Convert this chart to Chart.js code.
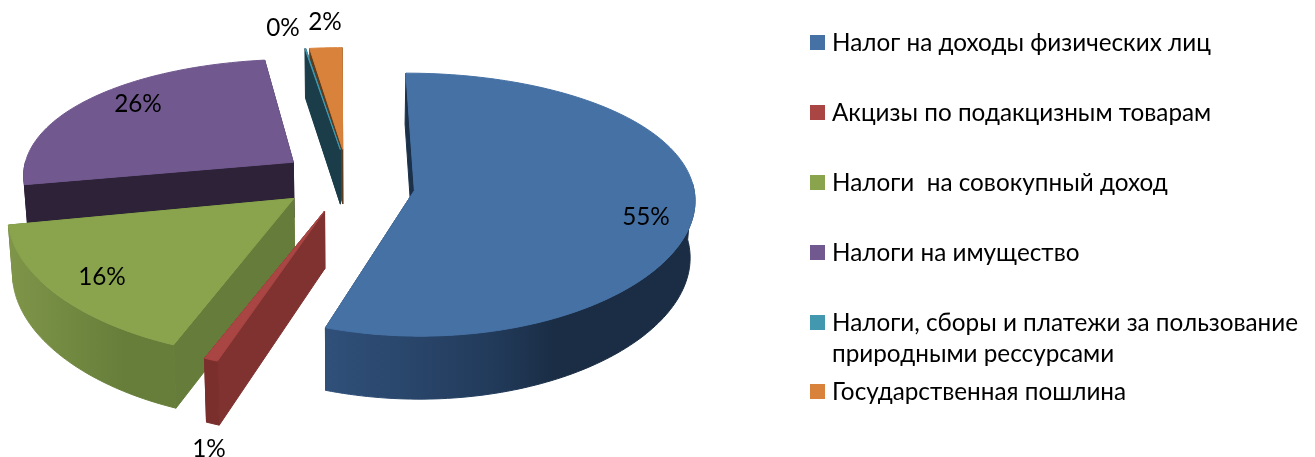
<!DOCTYPE html>
<html>
<head>
<meta charset="utf-8">
<script src="https://cdn.jsdelivr.net/npm/chart.js@4"></script>
<style>
  html, body { margin: 0; padding: 0; background: #fff; }
  canvas { display: block; }
</style>
</head>
<body>
<canvas id="myChart" width="1315" height="457"></canvas>
<script>
const categories = [
  "Налог на доходы физических лиц",
  "Акцизы по подакцизным товарам",
  "Налоги  на совокупный доход",
  "Налоги на имущество",
  "Налоги, сборы и платежи за пользование\nприродными рессурсами",
  "Государственная пошлина"
];
const shares = [55.2, 0.7, 16.0, 25.95, 0.05, 2.1];

// colours
const topColors = ["#4571a5", "#a94543", "#89a44d", "#71588f", "#4198af", "#d9823b"];
const radialWallColors = ["#1b3049", "#803230", "#657c3a", "#2d2238", "#1b3d4a", "#5d3d1e"];
const outerWallStops = [
  [[0, "#30507a"], [0.45, "#223b5b"], [0.62, "#1a2d45"], [1, "#1a2d45"]],
  [[0, "#7a2f2d"], [1, "#7a2f2d"]],
  [[0, "#7f9549"], [0.7, "#667e3a"], [1, "#667e3a"]],
  [[0, "#2d2238"], [1, "#2d2238"]],
  [[0, "#1b3d4a"], [1, "#1b3d4a"]],
  [[0, "#5d3d1e"], [1, "#5d3d1e"]]
];

// 3d look of the pie
const pieRadius = 279;
const squash = 126.5;
const depth = 56;
const perspX = 0.107;
const perspY = 0.16;
const floorShrink = 0.014;
const explode = 0.24;
const drawOrder = [3, 5, 4, 2, 1, 0];
// small corrections per slice, the original is not a perfect projection
const trimEnd = [1.1 * Math.PI / 180, 0, 0, 0, 0, 0];
const sliceScale = [1, 1, 1, 0.97, 1, 1];
const apexShift = [[2, 7], [2, 3], [0, 0], [1, 1], [3, 0], [1, 0]];

// label centres, placed by hand like in the original
const labelAt = [[646, 217], [209, 449], [102, 277], [138, 104], [283, 28], [325, 22]];
const legendSwatchTop = [35, 105, 175, 245, 315, 384];
const legendFont = '24.3px Lato, "Noto Sans"';
const labelFont = '24.3px Lato, "Noto Sans"';

function project(arc, theta, r, z) {
  const u = r * arc.scale * Math.sin(theta) + explode * Math.sin(arc.mid);
  const v = r * arc.scale * Math.cos(theta) + explode * Math.cos(arc.mid);
  const kx = 1 / (1 + perspX * v);
  const ky = 1 / (1 + perspY * v);
  return [
    arc.x + u * arc.outerRadius * kx * (1 - z * floorShrink),
    arc.y - v * squash * ky + z * depth * kx
  ];
}

function apex(arc, z) {
  const p = project(arc, 0, 0, z);
  return [p[0] + arc.shift[0], p[1] + arc.shift[1]];
}

function tracePoints(ctx, pts) {
  ctx.beginPath();
  pts.forEach(function (p, i) {
    if (i === 0) ctx.moveTo(p[0], p[1]);
    else ctx.lineTo(p[0], p[1]);
  });
  ctx.closePath();
}

function arcPoints(arc, from, to, z) {
  const pts = [];
  const steps = Math.max(2, Math.ceil(Math.abs(to - from) / 0.02));
  for (let i = 0; i <= steps; i++) {
    pts.push(project(arc, from + (to - from) * i / steps, 1, z));
  }
  return pts;
}

// stroke as well as fill, or white seams show between the wall pieces
function paint(ctx, style) {
  ctx.fillStyle = style;
  ctx.strokeStyle = style;
  ctx.lineWidth = 1;
  ctx.fill();
  ctx.stroke();
}

function radialWall(ctx, arc, theta, color) {
  tracePoints(ctx, [apex(arc, 0), project(arc, theta, 1, 0), project(arc, theta, 1, 1), apex(arc, 1)]);
  paint(ctx, color);
}

function drawSlice(ctx, el, i) {
  // chart.js angles start at 3 o'clock, the projection starts at 12
  const start = el.startAngle + Math.PI / 2;
  const end = el.endAngle + Math.PI / 2 - trimEnd[i];
  const arc = {
    x: el.x,
    y: el.y,
    outerRadius: el.outerRadius,
    mid: (start + el.endAngle + Math.PI / 2) / 2,
    scale: sliceScale[i],
    shift: apexShift[i]
  };

  radialWall(ctx, arc, end, radialWallColors[i]);
  radialWall(ctx, arc, start, radialWallColors[i]);

  // outer wall only where it faces the viewer
  const from = Math.max(start, Math.PI / 2);
  const to = Math.min(end, Math.PI * 1.5);
  if (to > from) {
    const upper = arcPoints(arc, from, to, 0);
    const lower = arcPoints(arc, from, to, 1).reverse();
    const xs = upper.map(function (p) { return p[0]; });
    const left = Math.min.apply(null, xs);
    const right = Math.max.apply(null, xs);
    const grad = ctx.createLinearGradient(left, 0, right, 0);
    outerWallStops[i].forEach(function (s) { grad.addColorStop(s[0], s[1]); });
    tracePoints(ctx, upper.concat(lower));
    paint(ctx, grad);
  }

  tracePoints(ctx, [apex(arc, 0)].concat(arcPoints(arc, start, end, 0)));
  paint(ctx, topColors[i]);
}

const pie3d = {
  id: "pie3d",
  beforeDatasetsDraw: function (chart) {
    const ctx = chart.ctx;
    const meta = chart.getDatasetMeta(0);
    ctx.save();
    drawOrder.forEach(function (i) { drawSlice(ctx, meta.data[i], i); });
    ctx.restore();
    return false; // flat arcs are not wanted
  },
  afterDraw: function (chart) {
    const ctx = chart.ctx;
    ctx.save();
    ctx.fillStyle = "#000";
    ctx.font = labelFont;
    ctx.textAlign = "center";
    ctx.textBaseline = "middle";
    shares.forEach(function (s, i) {
      ctx.fillText(Math.round(s) + "%", labelAt[i][0], labelAt[i][1]);
    });

    ctx.font = legendFont;
    ctx.textAlign = "left";
    ctx.textBaseline = "alphabetic";
    categories.forEach(function (name, i) {
      const top = legendSwatchTop[i];
      ctx.fillStyle = topColors[i];
      ctx.fillRect(810, top, 15, 15);
      ctx.fillStyle = "#000";
      name.split("\n").forEach(function (line, n) {
        ctx.fillText(line, 832, top + 16 + n * 31);
      });
    });
    ctx.restore();
  }
};

new Chart("myChart", {
  type: "pie",
  data: {
    labels: categories,
    datasets: [{
      data: shares,
      backgroundColor: topColors,
      borderWidth: 0,
      radius: pieRadius
    }]
  },
  options: {
    responsive: false,
    animation: false,
    layout: { padding: { right: 623, bottom: 100 } },
    plugins: {
      legend: { display: false },
      tooltip: { enabled: false }
    }
  },
  plugins: [pie3d]
});
</script>
</body>
</html>
